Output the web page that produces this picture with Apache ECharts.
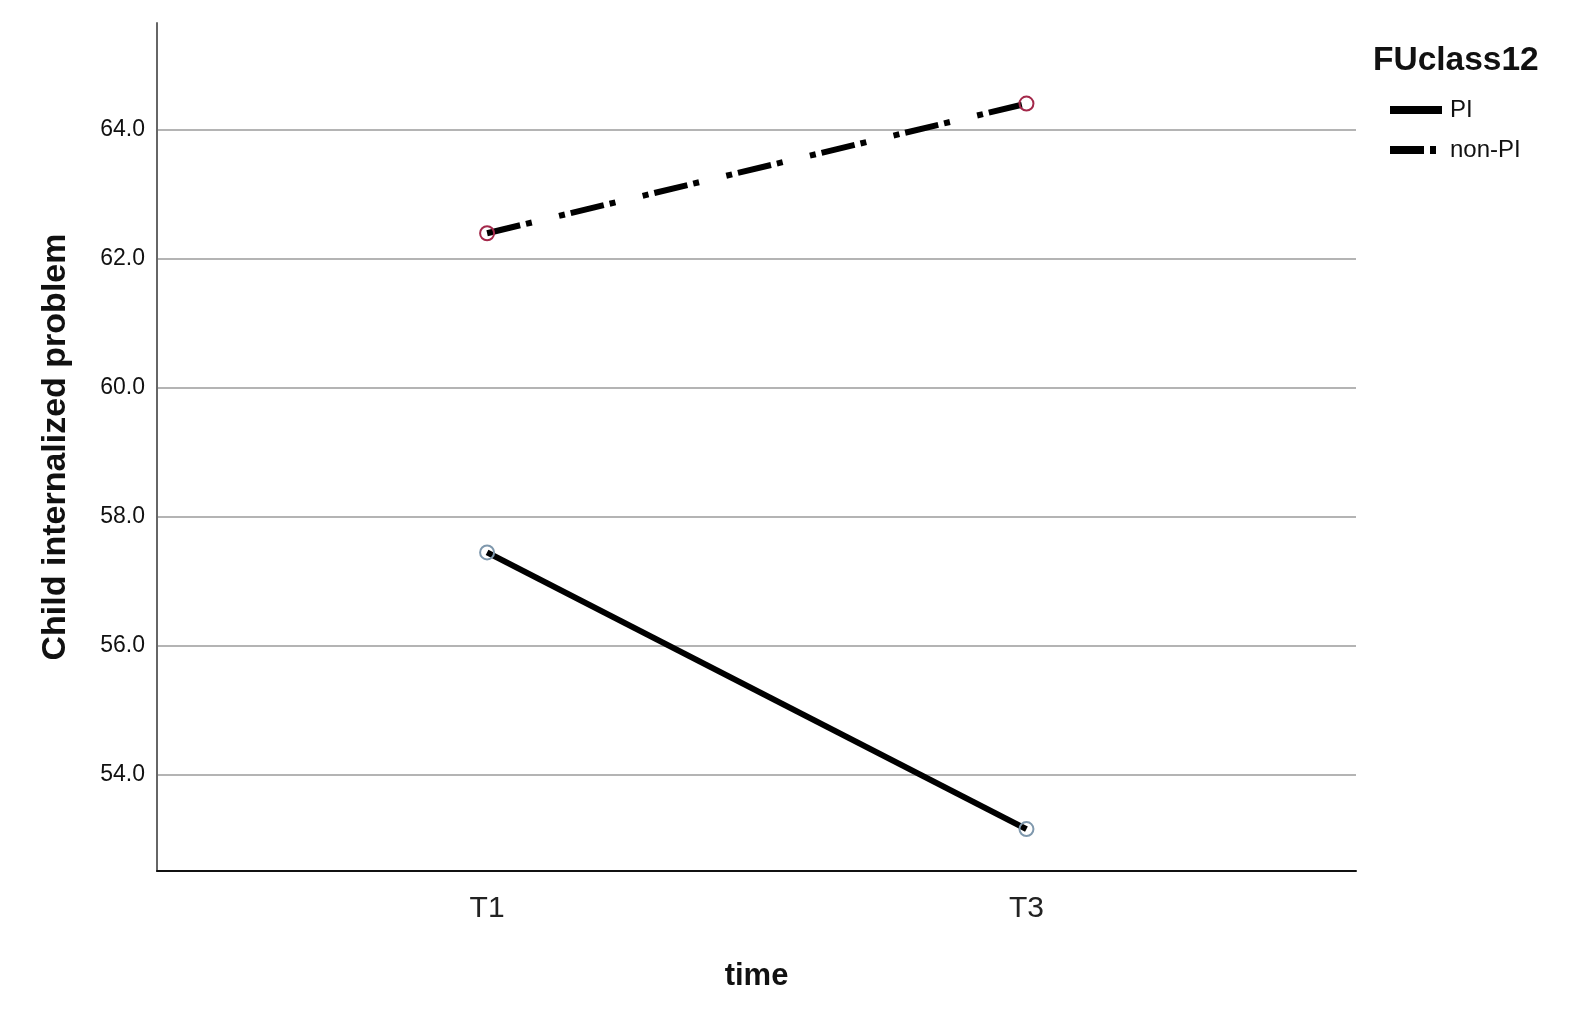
<!DOCTYPE html>
<html>
<head>
<meta charset="utf-8">
<script src="https://cdn.jsdelivr.net/npm/echarts@6/dist/echarts.min.js"></script>
<style>
html,body{margin:0;padding:0;background:#fff;}
#chart{width:1582px;height:1020px;}
</style>
</head>
<body>
<div id="chart"></div>
<script>
// ---- data ----
const categories = ['T1', 'T3'];
const seriesNames = ['PI', 'non-PI'];
const piValues = [57.45, 53.16];
const nonPiValues = [62.40, 64.41];
const yTicks = [54, 56, 58, 60, 62, 64];
const legendTitle = 'FUclass12';
const xTitle = 'time';
const yTitle = 'Child internalized problem';

const FONT = '"Liberation Sans", Arial, sans-serif';

function toPoints(vals) {
  return vals.map((v, i) => [i, v]);
}

const chart = echarts.init(document.getElementById('chart'), null, {renderer: 'canvas'});
chart.setOption({
  backgroundColor: '#ffffff',
  animation: false,
  title: {
    text: legendTitle,
    left: 1368,
    top: 39,
    textStyle: {fontFamily: FONT, fontWeight: 'bold', fontSize: 33.5, color: '#111'}
  },
  legend: {
    left: 1385,
    top: 93,
    orient: 'vertical',
    itemWidth: 52,
    itemHeight: 8,
    itemGap: 16,
    selectedMode: false,
    textStyle: {fontFamily: FONT, fontSize: 24, color: '#111', lineHeight: 24, padding: [0, 0, 0, 3]},
    data: [
      {name: seriesNames[0], icon: 'path://M0,0H52V8H0Z', itemStyle: {color: '#000', borderWidth: 0, borderColor: 'rgba(0,0,0,0)'}},
      {name: seriesNames[1], icon: 'path://M0,0H34V8H0Z M40,0H46V8H40Z M51.9,0H52V0.1H51.9Z', itemStyle: {color: '#000', borderWidth: 0, borderColor: 'rgba(0,0,0,0)'}}
    ]
  },
  grid: {left: 157, right: 226, top: 23, bottom: 149, containLabel: false},
  xAxis: {
    type: 'value',
    min: -0.612,
    max: 1.611,
    name: xTitle,
    nameLocation: 'middle',
    nameGap: 90,
    nameTextStyle: {fontFamily: FONT, fontWeight: 'bold', fontSize: 31, color: '#111'},
    axisLine: {show: true, onZero: false, lineStyle: {color: '#111', width: 2}},
    axisTick: {show: false, customValues: [0, 1]},
    splitLine: {show: false},
    axisLabel: {
      customValues: [0, 1],
      formatter: v => categories[Math.round(v)] || '',
      fontFamily: FONT, fontSize: 30, color: '#222', margin: 23
    }
  },
  yAxis: {
    type: 'value',
    min: 52.51,
    max: 65.66,
    name: yTitle,
    nameLocation: 'middle',
    nameGap: 84,
    nameTextStyle: {fontFamily: FONT, fontWeight: 'bold', fontSize: 34, color: '#111'},
    axisLine: {show: true, onZero: false, lineStyle: {color: '#666', width: 2}},
    axisTick: {show: false, customValues: yTicks},
    splitLine: {show: true, lineStyle: {color: '#b4b4b4', width: 2}},
    axisLabel: {
      customValues: yTicks,
      formatter: v => v.toFixed(1),
      fontFamily: FONT, fontSize: 23, color: '#111', margin: 12
    }
  },
  series: [
    {
      name: seriesNames[0],
      type: 'line',
      data: toPoints(piValues),
      symbol: 'circle',
      symbolSize: 14,
      lineStyle: {color: '#000', width: 6, type: 'solid'},
      itemStyle: {color: 'rgba(0,0,0,0)', borderColor: '#7f98ad', borderWidth: 2}
    },
    {
      name: seriesNames[1],
      type: 'line',
      data: toPoints(nonPiValues),
      symbol: 'circle',
      symbolSize: 14,
      lineStyle: {color: '#000', width: 6, type: [34, 6, 6, 28, 6, 6]},
      itemStyle: {color: 'rgba(0,0,0,0)', borderColor: '#a3284a', borderWidth: 2}
    }
  ]
});
</script>
</body>
</html>
